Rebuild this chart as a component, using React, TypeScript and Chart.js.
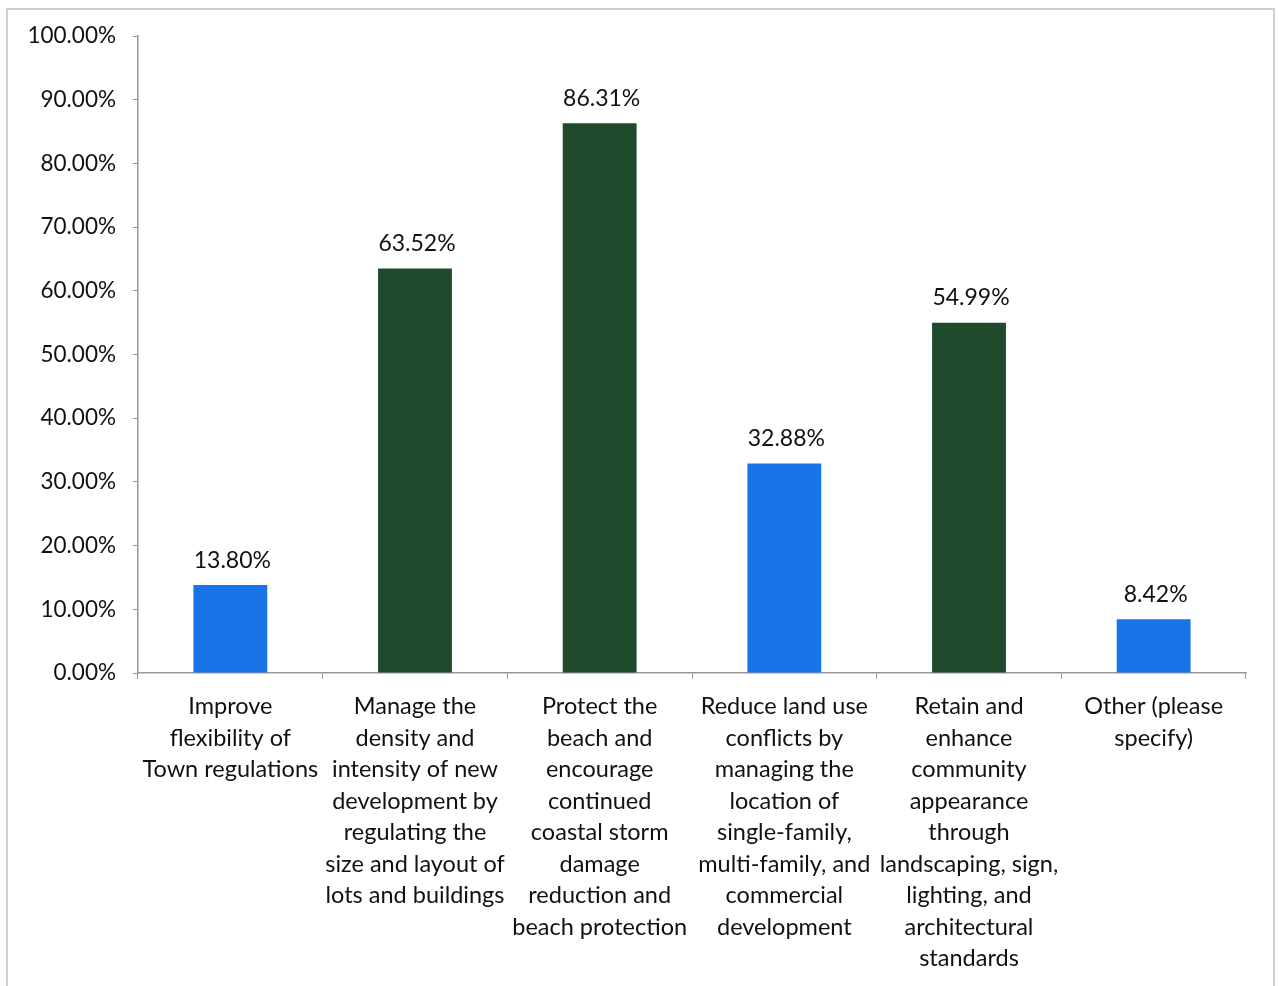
import React, { useEffect, useRef } from "react";
import { Chart, registerables } from "chart.js";

Chart.register(...registerables);

const categories: string[][] = [
  ["Improve", "flexibility of", "Town regulations"],
  ["Manage the", "density and", "intensity of new", "development by", "regulating the", "size and layout of", "lots and buildings"],
  ["Protect the", "beach and", "encourage", "continued", "coastal storm", "damage", "reduction and", "beach protection"],
  ["Reduce land use", "conflicts by", "managing the", "location of", "single-family,", "multi-family, and", "commercial", "development"],
  ["Retain and", "enhance", "community", "appearance", "through", "landscaping, sign,", "lighting, and", "architectural", "standards"],
  ["Other (please", "specify)"],
];

const values: number[] = [13.8, 63.52, 86.31, 32.88, 54.99, 8.42];

const BLUE = "#1a74e9";
const GREEN = "#1f4a2c";
const barColors: string[] = [BLUE, GREEN, GREEN, BLUE, GREEN, BLUE];

const FONT = "Lato, 'Open Sans', sans-serif";

const valueLabels = {
  id: "valueLabels",
  afterDatasetsDraw(chart: any) {
    const ctx = chart.ctx;
    const meta = chart.getDatasetMeta(0);
    ctx.save();
    ctx.font = `23px ${FONT}`;
    ctx.fillStyle = "#111";
    ctx.textAlign = "center";
    ctx.textBaseline = "middle";
    meta.data.forEach((bar: any, i: number) => {
      ctx.fillText(values[i].toFixed(2) + "%", bar.x + 2, bar.y - 25);
    });
    ctx.restore();
  },
};

const frame = {
  id: "frame",
  beforeDraw(chart: any) {
    const ctx = chart.ctx;
    ctx.save();
    ctx.fillStyle = "#fff";
    ctx.fillRect(0, 0, chart.width, chart.height);
    ctx.strokeStyle = "#cfcfcf";
    ctx.lineWidth = 2;
    ctx.strokeRect(7, 9, 1267, 990);
    ctx.restore();
  },
};

export default function App() {
  const ref = useRef<HTMLCanvasElement | null>(null);
  useEffect(() => {
    if (!ref.current) return;
    const chart = new Chart(ref.current, {
      type: "bar",
      data: {
        labels: categories,
        datasets: [
          {
            data: values,
            backgroundColor: barColors,
            barPercentage: 0.4,
            categoryPercentage: 1,
          },
        ],
      },
      options: {
        animation: false,
        responsive: false,
        maintainAspectRatio: false,
        layout: { padding: { left: 0, right: 33, top: 36, bottom: 0 } },
        plugins: { legend: { display: false }, tooltip: { enabled: false } },
        scales: {
          x: {
            grid: {
              offset: true,
              drawOnChartArea: false,
              drawTicks: true,
              tickLength: 6,
              color: "#999",
            },
            border: { color: "#999", width: 1.5 },
            ticks: {
              color: "#111",
              font: { family: FONT, size: 23.5, lineHeight: 1.34 },
              maxRotation: 0,
              autoSkip: false,
              padding: 12,
            },
            afterFit(scale: any) {
              scale.height = 986 - 673;
            },
          },
          y: {
            min: 0,
            max: 100,
            ticks: {
              stepSize: 10,
              color: "#111",
              font: { family: FONT, size: 22.5 },
              padding: 17,
              callback: (v: any) => Number(v).toFixed(2) + "%",
            },
            grid: {
              drawOnChartArea: false,
              drawTicks: true,
              tickLength: 5,
              color: "#999",
            },
            border: { color: "#999", width: 1.5 },
            afterFit(scale: any) {
              scale.width = 138;
            },
          },
        },
      },
      plugins: [frame, valueLabels],
    });
    return () => chart.destroy();
  }, []);
  return (
    <div style={{ position: "absolute", left: 0, top: 0, width: 1279, height: 986, background: "#fff" }}>
      <canvas ref={ref} width={1279} height={986} style={{ width: 1279, height: 986 }} />
    </div>
  );
}
